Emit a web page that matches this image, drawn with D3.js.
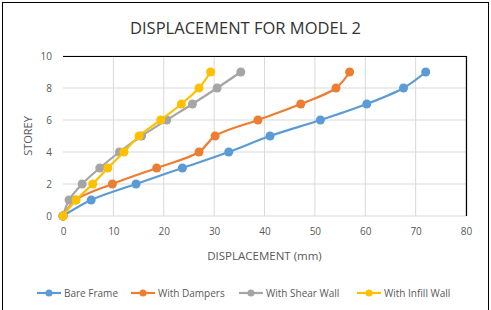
<!DOCTYPE html>
<html>
<head>
<meta charset="utf-8">
<script src="https://cdn.jsdelivr.net/npm/d3@7"></script>
<style>
  body { margin: 0; background: #fff; }
  text { font-family: "Open Sans", "Liberation Sans", sans-serif; }
</style>
</head>
<body>
<div id="chart"></div>
<script>
// storey levels (y values)
const storeys = [0, 1, 2, 3, 4, 5, 6, 7, 8, 9];

// displacement (mm) per storey
const bareFrame = [0, 5.6, 14.5, 23.7, 32.9, 41.1, 51.1, 60.3, 67.6, 72.0];
const withDampers = [0, 2.5, 9.8, 18.6, 27.0, 30.2, 38.7, 47.2, 54.2, 56.9];
const withShearWall = [0, 1.2, 3.8, 7.3, 11.2, 15.6, 20.6, 25.7, 30.6, 35.3];
const withInfillWall = [0, 2.6, 5.9, 8.9, 12.1, 15.1, 19.4, 23.5, 27.0, 29.3];

const seriesNames = ["Bare Frame", "With Dampers", "With Shear Wall", "With Infill Wall"];
const seriesColors = ["#5B9BD5", "#ED7D31", "#A5A5A5", "#FFC000"];

const xTicks = [0, 10, 20, 30, 40, 50, 60, 70, 80];
const yTicks = [0, 2, 4, 6, 8, 10];

const W = 491, H = 310;
const margin = { top: 56, right: 25, bottom: 94, left: 63 };
const width = W - margin.left - margin.right;
const height = H - margin.top - margin.bottom;

const svg = d3.select("#chart").append("svg")
    .attr("width", W)
    .attr("height", H);

// outer chart border
svg.append("rect")
    .attr("x", 2.5).attr("y", 2.5)
    .attr("width", W - 5).attr("height", H + 5)
    .attr("fill", "none")
    .attr("stroke", "#000")
    .attr("stroke-width", 1);

// title
svg.append("text")
    .attr("x", W / 2)
    .attr("y", 34)
    .attr("text-anchor", "middle")
    .attr("font-size", "16.5px")
    .attr("fill", "#333")
    .text("DISPLACEMENT FOR MODEL 2");

const g = svg.append("g")
    .attr("transform", `translate(${margin.left},${margin.top})`);

// scales
const xScale = d3.scaleLinear().domain([0, 80]).range([0, width]);
const yScale = d3.scaleLinear().domain([0, 10]).range([height, 0]);

// gridlines
g.append("g")
    .selectAll("line.vgrid")
    .data(xTicks.slice(1))
    .join("line")
    .attr("x1", d => xScale(d)).attr("x2", d => xScale(d))
    .attr("y1", 0).attr("y2", height)
    .attr("stroke", "#d9d9d9")
    .attr("stroke-width", 1);

g.append("g")
    .selectAll("line.hgrid")
    .data(yTicks)
    .join("line")
    .attr("x1", 0).attr("x2", width)
    .attr("y1", d => yScale(d)).attr("y2", d => yScale(d))
    .attr("stroke", "#d9d9d9")
    .attr("stroke-width", 1);

// black top and right edges of the plot area
g.append("line")
    .attr("x1", 0).attr("x2", width)
    .attr("y1", 0.5).attr("y2", 0.5)
    .attr("stroke", "#000").attr("stroke-width", 1.2);
g.append("line")
    .attr("x1", width + 0.5).attr("x2", width + 0.5)
    .attr("y1", 0).attr("y2", height)
    .attr("stroke", "#000").attr("stroke-width", 1.2);

// axes (labels only, no domain lines)
const xAxis = d3.axisBottom(xScale).tickValues(xTicks).tickSize(0).tickPadding(12);
const yAxis = d3.axisLeft(yScale).tickValues(yTicks).tickSize(0).tickPadding(11);

g.append("g")
    .attr("transform", `translate(0,${height})`)
    .call(xAxis)
    .call(a => a.select(".domain").remove())
    .call(a => a.selectAll("text")
        .attr("font-size", "10px")
        .attr("font-family", "'Open Sans', sans-serif")
        .attr("fill", "#595959"));

g.append("g")
    .call(yAxis)
    .call(a => a.select(".domain").remove())
    .call(a => a.selectAll("text")
        .attr("font-size", "10px")
        .attr("font-family", "'Open Sans', sans-serif")
        .attr("fill", "#595959"));

// axis titles
svg.append("text")
    .attr("x", margin.left + width / 2)
    .attr("y", 260)
    .attr("text-anchor", "middle")
    .attr("font-size", "11.5px")
    .attr("fill", "#595959")
    .text("DISPLACEMENT (mm)");

svg.append("text")
    .attr("transform", `translate(32,${margin.top + height / 2}) rotate(-90)`)
    .attr("text-anchor", "middle")
    .attr("font-size", "11px")
    .attr("fill", "#595959")
    .text("STOREY");

// series
const allSeries = [bareFrame, withDampers, withShearWall, withInfillWall];

const line = d3.line()
    .x(d => xScale(d[0]))
    .y(d => yScale(d[1]))
    .curve(d3.curveCatmullRom.alpha(0.5));

allSeries.forEach((vals, i) => {
    const pts = vals.map((v, j) => [v, storeys[j]]);
    const sg = g.append("g");
    sg.append("path")
        .datum(pts)
        .attr("d", line)
        .attr("fill", "none")
        .attr("stroke", seriesColors[i])
        .attr("stroke-width", 2.2);
    sg.selectAll("circle")
        .data(pts)
        .join("circle")
        .attr("cx", d => xScale(d[0]))
        .attr("cy", d => yScale(d[1]))
        .attr("r", 4.5)
        .attr("fill", seriesColors[i]);
});

// legend
const legendX = [37, 131, 239, 357];
const legend = svg.append("g").attr("transform", "translate(0,293)");
seriesNames.forEach((name, i) => {
    const lg = legend.append("g").attr("transform", `translate(${legendX[i]},0)`);
    lg.append("line")
        .attr("x1", 0).attr("x2", 24)
        .attr("y1", 0).attr("y2", 0)
        .attr("stroke", seriesColors[i])
        .attr("stroke-width", 2.2);
    lg.append("circle")
        .attr("cx", 12).attr("cy", 0)
        .attr("r", 3.5)
        .attr("fill", seriesColors[i]);
    lg.append("text")
        .attr("x", 27)
        .attr("y", 3.5)
        .attr("font-size", "10px")
        .attr("fill", "#595959")
        .text(name);
});
</script>
</body>
</html>
